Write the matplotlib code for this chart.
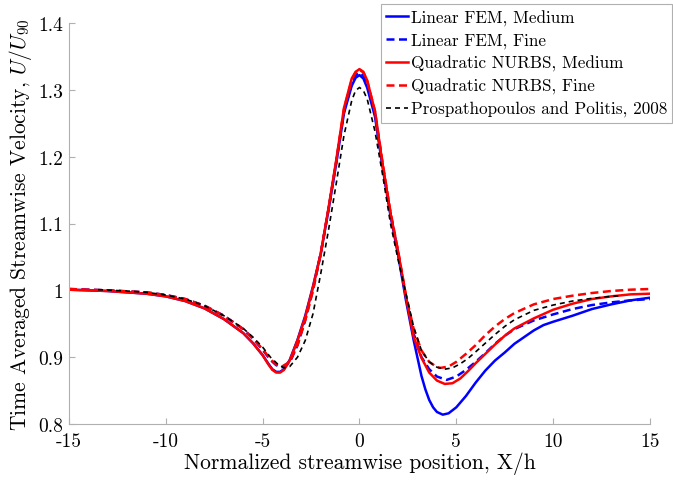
import numpy as np
import matplotlib
matplotlib.use('Agg')
import matplotlib.pyplot as plt

plt.rcParams['font.family'] = 'serif'
plt.rcParams['font.serif'] = ['cmr10']
plt.rcParams['mathtext.fontset'] = 'cm'
plt.rcParams['axes.unicode_minus'] = False

# Linear FEM, Medium
x_lin_med = [-15, -13, -11, -10, -9, -8, -7, -6, -5.5, -5, -4.7, -4.5, -4.3, -4.1, -3.9, -3.6,
             -3.2, -2.8, -2.4, -2.0, -1.6, -1.2, -0.8, -0.4, -0.2, 0, 0.2, 0.4, 0.8, 1.2, 1.6,
             2.0, 2.4, 2.8, 3.2, 3.4, 3.6, 3.8, 4.0, 4.3, 4.6, 5.0, 5.5, 6.0, 6.5, 7.0, 7.5,
             8.0, 8.5, 9.0, 9.5, 10.0, 11.0, 12.0, 13.0, 14.0, 15.0]
y_lin_med = [1.001, 0.999, 0.995, 0.991, 0.984, 0.973, 0.957, 0.936, 0.921, 0.903, 0.890, 0.882,
             0.878, 0.878, 0.882, 0.896, 0.926, 0.962, 1.006, 1.055, 1.120, 1.190, 1.265, 1.306,
             1.318, 1.322, 1.317, 1.303, 1.260, 1.183, 1.112, 1.052, 0.985, 0.925, 0.872, 0.852,
             0.836, 0.825, 0.818, 0.814, 0.816, 0.825, 0.842, 0.862, 0.880, 0.895, 0.907, 0.920,
             0.930, 0.940, 0.948, 0.953, 0.962, 0.972, 0.979, 0.985, 0.989]

# Linear FEM, Fine
x_lin_fine = [-15, -13, -11, -10, -9, -8, -7, -6, -5.5, -5, -4.6, -4.3, -4.0, -3.6, -3.2, -2.8,
              -2.4, -2.0, -1.6, -1.2, -0.8, -0.4, -0.2, 0, 0.2, 0.4, 0.8, 1.2, 1.6, 2.0, 2.4,
              2.8, 3.2, 3.6, 4.0, 4.5, 5.0, 5.5, 6.0, 6.5, 7.0, 7.5, 8.0, 9.0, 10.0, 11.0, 12.0,
              13.0, 14.0, 15.0]
y_lin_fine = [1.002, 1.000, 0.997, 0.993, 0.987, 0.977, 0.962, 0.942, 0.928, 0.911, 0.896, 0.888,
              0.885, 0.892, 0.918, 0.956, 1.001, 1.055, 1.121, 1.192, 1.268, 1.310, 1.322, 1.326,
              1.321, 1.307, 1.265, 1.186, 1.115, 1.055, 0.990, 0.935, 0.900, 0.882, 0.871, 0.866,
              0.871, 0.881, 0.893, 0.906, 0.920, 0.932, 0.942, 0.955, 0.964, 0.972, 0.978, 0.982,
              0.985, 0.987]

# Quadratic NURBS, Medium
x_quad_med = [-15, -13, -11, -10, -9, -8, -7, -6, -5.5, -5, -4.7, -4.5, -4.3, -4.1, -3.9, -3.6,
              -3.2, -2.8, -2.4, -2.0, -1.6, -1.2, -0.8, -0.4, -0.2, 0, 0.2, 0.4, 0.8, 1.2, 1.6,
              2.0, 2.4, 2.8, 3.2, 3.6, 4.0, 4.4, 4.8, 5.2, 5.6, 6.0, 6.5, 7.0, 7.5, 8.0, 9.0,
              10.0, 11.0, 12.0, 13.0, 14.0, 15.0]
y_quad_med = [1.001, 0.999, 0.995, 0.991, 0.984, 0.973, 0.957, 0.936, 0.921, 0.903, 0.889, 0.881,
              0.877, 0.877, 0.881, 0.895, 0.925, 0.960, 1.005, 1.055, 1.123, 1.195, 1.273, 1.317,
              1.327, 1.331, 1.327, 1.314, 1.268, 1.187, 1.115, 1.057, 0.990, 0.930, 0.899, 0.877,
              0.865, 0.860, 0.861, 0.868, 0.879, 0.891, 0.905, 0.919, 0.932, 0.943, 0.958, 0.971,
              0.980, 0.987, 0.991, 0.994, 0.995]

# Quadratic NURBS, Fine
x_quad_fine = [-15, -13, -11, -10, -9, -8, -7, -6, -5.5, -5, -4.6, -4.3, -4.0, -3.6, -3.2, -2.8,
               -2.4, -2.0, -1.6, -1.2, -0.8, -0.4, -0.2, 0, 0.2, 0.4, 0.8, 1.2, 1.6, 2.0, 2.4,
               2.8, 3.2, 3.6, 4.0, 4.2, 4.6, 5.0, 5.5, 6.0, 6.5, 7.0, 7.5, 8.0, 9.0, 10.0, 11.0,
               12.0, 13.0, 14.0, 15.0]
y_quad_fine = [1.002, 1.000, 0.997, 0.993, 0.987, 0.977, 0.962, 0.942, 0.928, 0.912, 0.897, 0.889,
               0.886, 0.893, 0.918, 0.955, 1.000, 1.055, 1.122, 1.193, 1.271, 1.315, 1.326, 1.330,
               1.326, 1.313, 1.268, 1.190, 1.118, 1.058, 0.993, 0.942, 0.910, 0.893, 0.885, 0.884,
               0.886, 0.893, 0.905, 0.918, 0.933, 0.946, 0.957, 0.966, 0.979, 0.987, 0.992, 0.996,
               0.999, 1.001, 1.002]

# Prospathopoulos and Politis, 2008
x_ref = [-13.5, -12, -11, -10, -9, -8, -7, -6, -5.5, -5, -4.6, -4.2, -3.9, -3.6, -3.2, -2.8,
         -2.4, -2.0, -1.6, -1.2, -0.8, -0.4, -0.2, 0, 0.2, 0.4, 0.8, 1.2, 1.6, 2.0, 2.4, 2.8,
         3.2, 3.6, 4.0, 4.4, 4.8, 5.2, 5.6, 6.0, 6.5, 7.0, 7.5, 8.0, 9.0, 10.0, 11.0, 12.0,
         13.0, 13.5]
y_ref = [1.001, 0.999, 0.997, 0.993, 0.987, 0.977, 0.962, 0.943, 0.930, 0.915, 0.900, 0.889,
         0.884, 0.886, 0.900, 0.925, 0.965, 1.025, 1.090, 1.160, 1.232, 1.284, 1.299, 1.3035,
         1.299, 1.286, 1.238, 1.172, 1.100, 1.045, 0.995, 0.945, 0.910, 0.893, 0.885, 0.882,
         0.884, 0.890, 0.898, 0.908, 0.921, 0.934, 0.946, 0.956, 0.970, 0.978, 0.984, 0.988,
         0.991, 0.992]

labels = ['Linear FEM, Medium', 'Linear FEM, Fine', 'Quadratic NURBS, Medium',
          'Quadratic NURBS, Fine', 'Prospathopoulos and Politis, 2008']
xticks = [-15, -10, -5, 0, 5, 10, 15]
xtick_labels = ['-15', '-10', '-5', '0', '5', '10', '15']
yticks = [0.8, 0.9, 1.0, 1.1, 1.2, 1.3, 1.4]
ytick_labels = ['0.8', '0.9', '1', '1.1', '1.2', '1.3', '1.4']

fig = plt.figure(figsize=(6.73, 4.81), dpi=100)
ax = fig.add_axes([0.1025, 0.1164, 0.8633, 0.8337])

ax.plot(x_lin_med, y_lin_med, color='blue', lw=1.8, label=labels[0])
ax.plot(x_lin_fine, y_lin_fine, color='blue', lw=1.8, ls=(0, (3.2, 1.8)), label=labels[1])
ax.plot(x_quad_med, y_quad_med, color='red', lw=1.8, label=labels[2])
ax.plot(x_quad_fine, y_quad_fine, color='red', lw=1.8, ls=(0, (3.2, 1.8)), label=labels[3])
ax.plot(x_ref, y_ref, color='black', lw=1.2, ls=(0, (3.0, 2.4)), label=labels[4])

ax.set_xlim(-15, 15)
ax.set_ylim(0.8, 1.4)
ax.set_xticks(xticks, labels=xtick_labels)
ax.set_yticks(yticks, labels=ytick_labels)
ax.tick_params(direction='in', length=4, color='#b0b0b0', labelsize=14)
ax.tick_params(axis='x', pad=6)
ax.tick_params(axis='y', pad=4)
for side in ['top', 'right']:
    ax.spines[side].set_visible(False)
for side in ['left', 'bottom']:
    ax.spines[side].set_color('#b0b0b0')

ax.set_xlabel('Normalized streamwise position, X/h', fontsize=15.5, labelpad=1)
ax.set_ylabel('Time Averaged Streamwise Velocity, $U/U_{90}$', fontsize=15.5, labelpad=3)

leg = ax.legend(loc='upper right', bbox_to_anchor=(1.038, 1.047), borderaxespad=0,
                fontsize=12.3, handlelength=1.3, handletextpad=0.15, labelspacing=0.4,
                borderpad=0.3, fancybox=False, framealpha=1, edgecolor='#b0b0b0')
leg.get_frame().set_linewidth(0.8)

fig.savefig('out.png', dpi=100)
